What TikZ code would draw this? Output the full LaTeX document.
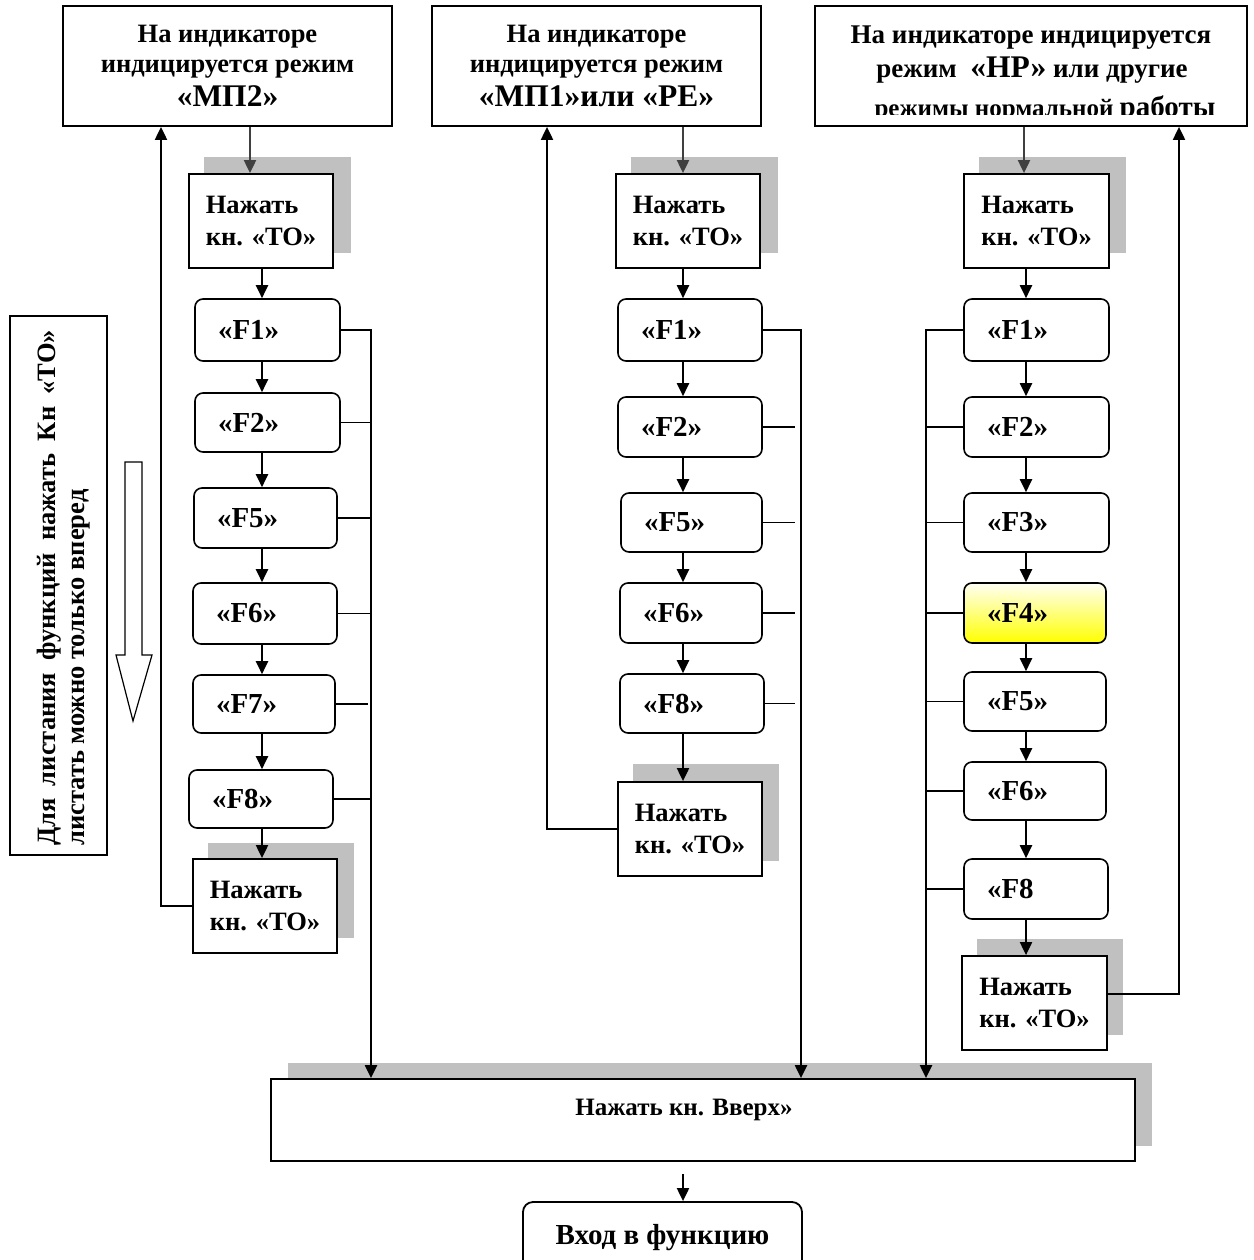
\documentclass[tikz,border=0pt]{standalone}
\usepackage{fontspec}
\setmainfont{Liberation Serif}
\usetikzlibrary{arrows.meta,calc}
\newcommand{\fsz}[2]{\fontsize{#1}{#2}\selectfont}
\definecolor{shad}{HTML}{C0C0C0}
\definecolor{darkarr}{HTML}{404040}
\begin{document}
\begin{tikzpicture}[x=1pt,y=-1pt,
  font=\bfseries\fsz{26.5}{32},
  box/.style={draw, line width=1.8pt, fill=white},
  topbox/.style={box, minimum height=120pt, inner sep=0pt},
  txt/.style={anchor=base, inner sep=0pt},
  tobox/.style={box, align=left, minimum width=144pt, minimum height=94pt, inner sep=2pt},
  fbox/.style={box, rounded corners=8pt, line width=1.6pt, text width=98pt, inner xsep=23pt, inner ysep=0pt, align=left, minimum height=60pt, font=\bfseries\fsz{29}{32}},
  arr/.style={line width=2pt, -{Triangle[length=13pt,width=12pt]}},
  grayarr/.style={arr, draw=darkarr, fill=darkarr},
  bus/.style={line width=2.2pt, -{Triangle[length=13pt,width=12pt]}},
  stub/.style={line width=1.6pt}
]
\useasboundingbox (0,0) rectangle (1253,1260);
\fill[white] (0,0) rectangle (1253,1260);

% ---------- top boxes ----------
\node[topbox, minimum width=329pt] (t1) at (227.5,66) {};
\node[txt] (t1a) at (227.5,43) {На индикаторе};
\node[txt] (t1b) at (227.5,73) {индицируется режим};
\node[txt] (t1c) at (227.5,107) {\fsz{31.5}{34}«МП2»};

\node[topbox, minimum width=329pt] (t2) at (596.5,66) {};
\node[txt] (t2a) at (596.5,43) {На индикаторе};
\node[txt] (t2b) at (596.5,73) {индицируется режим};
\node[txt] (t2c) at (596.5,107) {\fsz{31.5}{34}«МП1»или «РЕ»};

\node[topbox, minimum width=432pt] (t3) at (1031,66) {};
\begin{scope}
\clip (817,8) rectangle (1245,115);
\node[txt] (t3a) at (1031,44) {\fsz{27}{32}На индикаторе индицируется};
\node[txt] (t3b) at (1032,78) {\fsz{27}{32}режим\ \ {\fsz{31.5}{34}«НР»} или другие};
\node[txt] (t3c) at (1045,117) {\fsz{25}{30}режимы нормальной {\fsz{29}{31}работы}};
\end{scope}

% ---------- column 1 ----------
\fill[shad] (204,157) rectangle (351,253);
\node[tobox] (toa1) at (261,221) {Нажать\\кн. «ТО»};
\node[fbox, minimum height=62pt, text width=99pt] (a1) at (267.5,330) {«F1»};
\node[fbox, minimum height=59pt, text width=99pt] (a2) at (267.5,422.5) {«F2»};
\node[fbox, text width=97pt] (a5) at (265.5,518) {«F5»};
\node[fbox, minimum height=61pt] (a6) at (265,613.5) {«F6»};
\node[fbox, minimum height=58pt, text width=96pt] (a7) at (264,704) {«F7»};
\node[fbox, minimum height=58pt] (a8) at (261,799) {«F8»};
\fill[shad] (208,843) rectangle (354,938);
\node[tobox] (tob1) at (265,906) {Нажать\\кн. «ТО»};

% ---------- column 2 ----------
\fill[shad] (631,157) rectangle (778,253);
\node[tobox] (toa2) at (688,221) {Нажать\\кн. «ТО»};
\node[fbox, minimum height=62pt] (b1) at (690,330) {«F1»};
\node[fbox] (b2) at (690,427) {«F2»};
\node[fbox, minimum height=59pt, text width=95pt] (b5) at (691.5,522.5) {«F5»};
\node[fbox, text width=96pt] (b6) at (691,613) {«F6»};
\node[fbox, minimum height=59pt] (b8) at (692,703.5) {«F8»};
\fill[shad] (633,764) rectangle (779,861);
\node[tobox] (tob2) at (690,829) {Нажать\\кн. «ТО»};

% ---------- column 3 ----------
\fill[shad] (979,157) rectangle (1126,253);
\node[tobox, minimum width=145pt] (toa3) at (1036.5,221) {Нажать\\кн. «ТО»};
\node[fbox, minimum height=62pt, text width=99pt] (c1) at (1036.5,330) {«F1»};
\node[fbox, text width=99pt] (c2) at (1036.5,427) {«F2»};
\node[fbox, minimum height=59pt, text width=99pt] (c3) at (1036.5,522.5) {«F3»};
\node[fbox, text width=96pt, top color=yellow!4, bottom color=yellow] (c4) at (1035,613) {«F4»};
\node[fbox, minimum height=59pt, text width=96pt] (c5) at (1035,701.5) {«F5»};
\node[fbox, minimum height=58pt, text width=96pt] (c6) at (1035,791) {«F6»};
\node[fbox] (c8) at (1036,889) {«F8};
\fill[shad] (977,939) rectangle (1123,1035);
\node[tobox, minimum width=145pt] (tob3) at (1034.5,1003) {Нажать\\кн. «ТО»};

% ---------- bottom ----------
\fill[shad] (288,1063) rectangle (1152,1146);
\node[box, minimum width=864pt, minimum height=82pt] (bot) at (703,1120) {};
\node[inner sep=0pt, font=\bfseries\fsz{25}{30}] (bottxt) at (684,1110) {Нажать кн. Вверх»};
\node[box, rounded corners=10pt, minimum width=279pt, minimum height=72pt, font=\bfseries\fsz{29}{32}] (entry) at (662.5,1238) {Вход в функцию};

% ---------- left note ----------
\node[draw, line width=1.5pt, minimum width=97pt, minimum height=539pt, inner sep=0pt] (note) at (58.5,585.5) {};
\node[rotate=90, anchor=base west, inner sep=0pt] (notea) at (55,846) {\makebox[516pt][s]{Для листания функций нажать Кн «ТО»}};
\node[rotate=90, anchor=base west, inner sep=0pt] (noteb) at (84,846) {листать можно только вперед};
\draw[line width=1.2pt, fill=white] (125,462) -- (142,462) -- (142,655) -- (152,655) -- (133,721) -- (116,655) -- (125,655) -- cycle;

% ---------- coordinates ----------
\coordinate (tx1) at (250,0);
\coordinate (ax1) at (262,0);
\coordinate (lx1) at (161,0);
\coordinate (bx1) at (371,0);
\coordinate (ax2) at (683,0);
\coordinate (lx2) at (547,0);
\coordinate (bx2) at (801,0);
\coordinate (sx2) at (795,0);
\coordinate (tx3) at (1024,0);
\coordinate (ax3) at (1026,0);
\coordinate (lx3) at (1179,0);
\coordinate (bx3) at (926,0);
\coordinate (dx) at (683,0);

% ---------- column 1 connectors ----------
\draw[grayarr] (t1.south -| tx1) -- (toa1.north -| tx1);
\draw[arr] (toa1.south -| ax1) -- (a1.north -| ax1);
\draw[arr] (a1.south -| ax1) -- (a2.north -| ax1);
\draw[arr] (a2.south -| ax1) -- (a5.north -| ax1);
\draw[arr] (a5.south -| ax1) -- (a6.north -| ax1);
\draw[arr] (a6.south -| ax1) -- (a7.north -| ax1);
\draw[arr] (a7.south -| ax1) -- (a8.north -| ax1);
\draw[arr] (a8.south -| ax1) -- (tob1.north -| ax1);
\draw[arr] (tob1.west) -| (t1.south -| lx1);
\draw[bus] (a1.east) -| (bot.north -| bx1);
\foreach \n in {a2,a5,a6,a8} \draw[stub] (\n.east) -- (\n.east -| bx1);
\draw[stub, shorten >=3pt] (a7.east) -- (a7.east -| bx1);

% ---------- column 2 connectors ----------
\draw[grayarr] (t2.south -| ax2) -- (toa2.north -| ax2);
\draw[arr] (toa2.south -| ax2) -- (b1.north -| ax2);
\draw[arr] (b1.south -| ax2) -- (b2.north -| ax2);
\draw[arr] (b2.south -| ax2) -- (b5.north -| ax2);
\draw[arr] (b5.south -| ax2) -- (b6.north -| ax2);
\draw[arr] (b6.south -| ax2) -- (b8.north -| ax2);
\draw[arr] (b8.south -| ax2) -- (tob2.north -| ax2);
\draw[arr] (tob2.west) -| (t2.south -| lx2);
\draw[bus] (b1.east) -| (bot.north -| bx2);
\foreach \n in {b2,b5,b6,b8} \draw[stub] (\n.east) -- (\n.east -| sx2);

% ---------- column 3 connectors ----------
\draw[grayarr] (t3.south -| tx3) -- (toa3.north -| tx3);
\draw[arr] (toa3.south -| ax3) -- (c1.north -| ax3);
\draw[arr] (c1.south -| ax3) -- (c2.north -| ax3);
\draw[arr] (c2.south -| ax3) -- (c3.north -| ax3);
\draw[arr] (c3.south -| ax3) -- (c4.north -| ax3);
\draw[arr] (c4.south -| ax3) -- (c5.north -| ax3);
\draw[arr] (c5.south -| ax3) -- (c6.north -| ax3);
\draw[arr] (c6.south -| ax3) -- (c8.north -| ax3);
\draw[arr] (c8.south -| ax3) -- (tob3.north -| ax3);
\draw[arr] ([yshift=9pt]tob3.east) -| (t3.south -| lx3);
\draw[bus] (c1.west) -| (bot.north -| bx3);
\foreach \n in {c2,c3,c4,c5,c6,c8} \draw[stub] (\n.west) -- (\n.west -| bx3);

% ---------- bottom arrow ----------
\draw[arr] ([yshift=-12pt]bot.south -| dx) -- (entry.north -| dx);
\end{tikzpicture}
\end{document}
